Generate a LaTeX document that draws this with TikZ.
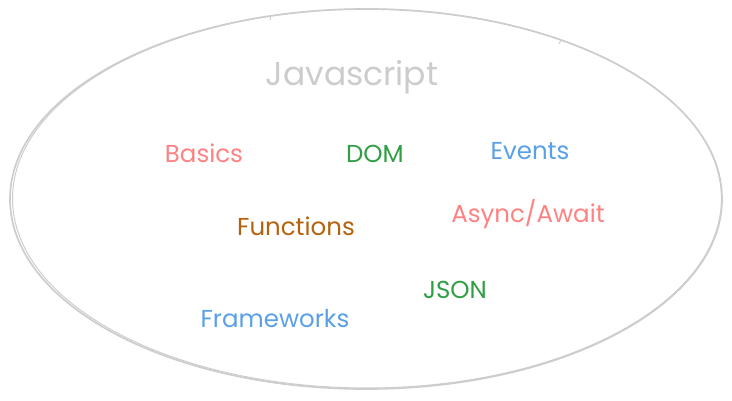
\documentclass[tikz,border=0pt]{standalone}
\usepackage{fontspec}
\setmainfont{Poppins}
\definecolor{cgray}{HTML}{CCCCCC}
\definecolor{cline}{HTML}{CDCDCD}
\definecolor{csalmon}{HTML}{FF8282}
\definecolor{cgreen}{HTML}{2F9E44}
\definecolor{cblue}{HTML}{5AA0E6}
\definecolor{cbrown}{HTML}{B5620E}
\begin{document}
\begin{tikzpicture}[x=1pt,y=-1pt,
  lbl/.style={inner sep=0pt,font=\fontsize{24.5}{28}\selectfont},
  ttl/.style={inner sep=0pt,font=\fontsize{33}{38}\selectfont,text=cgray},
  outline/.style={draw=cline,line width=1.7pt}]
\useasboundingbox (0,0) rectangle (732,401);
\draw[outline] (366,199) ellipse [x radius=356, y radius=190];
\draw[outline,line width=1pt] (367,198.5) ellipse [x radius=354.5, y radius=189.5];
\draw[outline,line width=0.9pt] (271,15) -- (270,20);
\draw[outline,line width=0.9pt] (561,40) -- (559,44);
\node[ttl] (js) at (352,77) {Javascript};
\node[lbl,text=csalmon] (basics) at (204,153) {Basics};
\node[lbl,text=cgreen] (dom) at (375,154) {DOM};
\node[lbl,text=cblue] (events) at (530,151) {Events};
\node[lbl,text=cbrown] (functions) at (296,226) {Functions};
\node[lbl,text=csalmon] (async) at (528,214) {Async/Await};
\node[lbl,text=cgreen] (json) at (455,290) {JSON};
\node[lbl,text=cblue] (frameworks) at (275,319) {Frameworks};
\end{tikzpicture}
\end{document}
